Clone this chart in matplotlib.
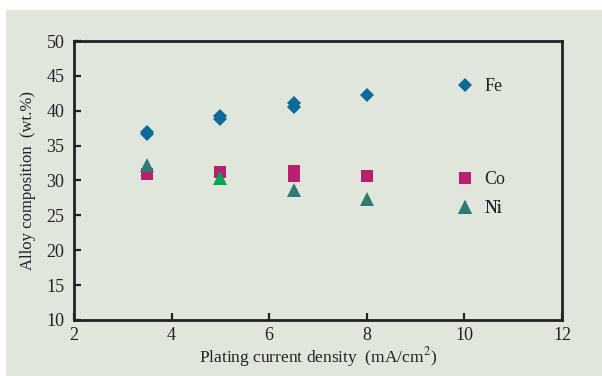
import matplotlib
matplotlib.use("Agg")
import matplotlib.pyplot as plt
from matplotlib.lines import Line2D
from matplotlib.patches import Rectangle

# Alloy composition vs. plating current density
fe_x = [3.5, 3.5, 5.0, 5.0, 6.5, 6.5, 8.0]
fe_y = [36.6, 36.9, 38.8, 39.2, 40.5, 41.1, 42.3]

co_x = [3.5, 5.0, 6.5, 6.5, 8.0]
co_y = [30.9, 31.2, 30.6, 31.3, 30.6]

ni_x = [3.5, 6.5, 8.0]
ni_y = [32.2, 28.6, 27.3]

ni_hl_x = [5.0]
ni_hl_y = [30.3]

x_ticks = [2, 4, 6, 8, 10, 12]
y_ticks = [10, 15, 20, 25, 30, 35, 40, 45, 50]

BG = "#e1e6dc"
FE_C = "#0b6a98"
CO_C = "#b8216f"
NI_C = "#2f7a75"
NI_HL = "#00a650"

plt.rcParams["font.family"] = ["Liberation Serif", "DejaVu Serif"]
plt.rcParams["mathtext.fontset"] = "stix"

fig = plt.figure(figsize=(6.02, 3.76), dpi=100)
fig.patch.set_facecolor("white")
# shaded panel behind the chart
fig.patches.append(Rectangle((6 / 602, 0), 1 - 6 / 602, 1 - 10 / 376,
                             transform=fig.transFigure, facecolor=BG,
                             edgecolor="none", zorder=-1))

ax = fig.add_axes([74 / 602, 1 - 320 / 376, 488 / 602, 279 / 376])
ax.set_facecolor(BG)

ms = 8
ax.plot(fe_x, fe_y, linestyle="none", marker="D", markersize=ms * 0.85,
        color=FE_C, markeredgewidth=0)
ax.plot(co_x, co_y, linestyle="none", marker="s", markersize=ms * 1.05,
        color=CO_C, markeredgewidth=0)
ax.plot(ni_x, ni_y, linestyle="none", marker="^", markersize=ms * 1.25,
        color=NI_C, markeredgewidth=0)
ax.plot(ni_hl_x, ni_hl_y, linestyle="none", marker="^", markersize=ms * 1.25,
        color=NI_HL, markeredgewidth=0)

ax.set_xlim(2, 12)
ax.set_ylim(10, 50)
ax.set_xticks(x_ticks)
ax.set_yticks(y_ticks)

for s in ax.spines.values():
    s.set_linewidth(2.0)
    s.set_color("#222222")

ax.tick_params(direction="in", length=5, width=1.6, color="#222222",
               labelsize=13, labelcolor="#222222")
ax.tick_params(axis="x", pad=5)
ax.tick_params(axis="y", pad=7)

ax.set_xlabel("Plating current density  (mA/cm$^2$)", fontsize=12.5,
              color="#222222", labelpad=1)
ax.set_ylabel("Alloy composition  (wt.%)", fontsize=12,
              color="#222222", labelpad=7)

# legend entries placed individually down the right side
entries = [("Fe", "D", FE_C, ms * 0.85, 0.836),
           ("Co", "s", CO_C, ms * 1.05, 0.503),
           ("Ni", "^", NI_C, ms * 1.25, 0.398)]
for label, mk, col, size, ypos in entries:
    h = Line2D([], [], linestyle="none", marker=mk, color=col,
               markersize=size, markeredgewidth=0)
    leg = ax.legend([h], [label], loc="center left",
                    bbox_to_anchor=(0.782, ypos), frameon=False,
                    fontsize=13, handlelength=1.0, handletextpad=0.6,
                    borderpad=0, borderaxespad=0)
    for t in leg.get_texts():
        t.set_color("#222222")
    ax.add_artist(leg)

fig.savefig("out.png", dpi=100, facecolor=fig.get_facecolor())
